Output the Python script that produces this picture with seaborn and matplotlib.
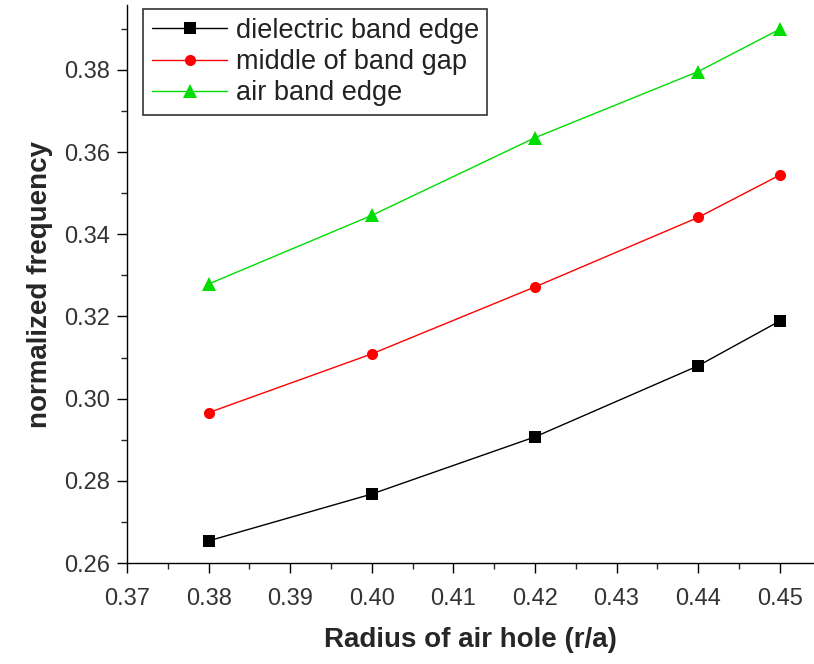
import matplotlib
matplotlib.use("Agg")
import matplotlib.pyplot as plt
import seaborn as sns
import pandas as pd
from matplotlib.ticker import MultipleLocator, FormatStrFormatter

radius = [0.38, 0.40, 0.42, 0.44, 0.45]
dielectric = [0.2654, 0.2768, 0.2907, 0.3080, 0.3189]
middle = [0.2966, 0.3109, 0.3272, 0.3441, 0.3544]
air = [0.3279, 0.3446, 0.3635, 0.3796, 0.3899]
series_names = ["dielectric band edge", "middle of band gap", "air band edge"]

df = pd.concat([
    pd.DataFrame({"r": radius, "f": vals, "series": name})
    for name, vals in zip(series_names, [dielectric, middle, air])
])

sns.set_style("ticks")
plt.rcParams['font.family'] = ['Liberation Sans', 'DejaVu Sans']

fig = plt.figure(figsize=(8.14, 6.64), dpi=100)
ax = fig.add_axes([0.156, 0.152, 0.844, 0.8405])

palette = {"dielectric band edge": "black", "middle of band gap": "#ff0000", "air band edge": "#00dd00"}
markers = {"dielectric band edge": "s", "middle of band gap": "o", "air band edge": "^"}
sizes_m = {"dielectric band edge": 8, "middle of band gap": 8, "air band edge": 10}

for name in series_names:
    sub = df[df["series"] == name]
    sns.lineplot(data=sub, x="r", y="f", ax=ax, color=palette[name], marker=markers[name],
                 markersize=sizes_m[name], markeredgewidth=0, linewidth=1.0, label=name)

ax.set_xlim(0.37, 0.4542)
ax.set_ylim(0.26, 0.3958)
ax.xaxis.set_major_locator(MultipleLocator(0.01))
ax.xaxis.set_minor_locator(MultipleLocator(0.005))
ax.yaxis.set_major_locator(MultipleLocator(0.02))
ax.yaxis.set_minor_locator(MultipleLocator(0.01))
ax.xaxis.set_major_formatter(FormatStrFormatter('%.2f'))
ax.yaxis.set_major_formatter(FormatStrFormatter('%.2f'))
ax.tick_params(axis='both', which='major', direction='out', length=7, width=1, labelsize=17, colors='black')
ax.tick_params(axis='x', which='major', pad=11)
ax.tick_params(axis='y', which='major', pad=5)
ax.tick_params(axis='both', which='minor', direction='out', length=4, width=1)
for lab in ax.get_xticklabels() + ax.get_yticklabels():
    lab.set_color('#333333')

sns.despine(ax=ax)
for s in ["left", "bottom"]:
    ax.spines[s].set_linewidth(1.0)
    ax.spines[s].set_color('black')

ax.set_xlabel("Radius of air hole (r/a)", fontsize=20, fontweight='bold', labelpad=12)
ax.set_ylabel("normalized frequency", fontsize=20, fontweight='bold', labelpad=8)

leg = ax.legend(loc='upper left', bbox_to_anchor=(0.024, 0.992), fontsize=19.5, frameon=True,
                fancybox=False, edgecolor='black', handlelength=2.8, handletextpad=0.3,
                borderpad=0.3, labelspacing=0.2, borderaxespad=0)
leg.get_frame().set_linewidth(1.2)
for t in leg.get_texts():
    t.set_color('#222222')

fig.savefig("out.png", dpi=100)
